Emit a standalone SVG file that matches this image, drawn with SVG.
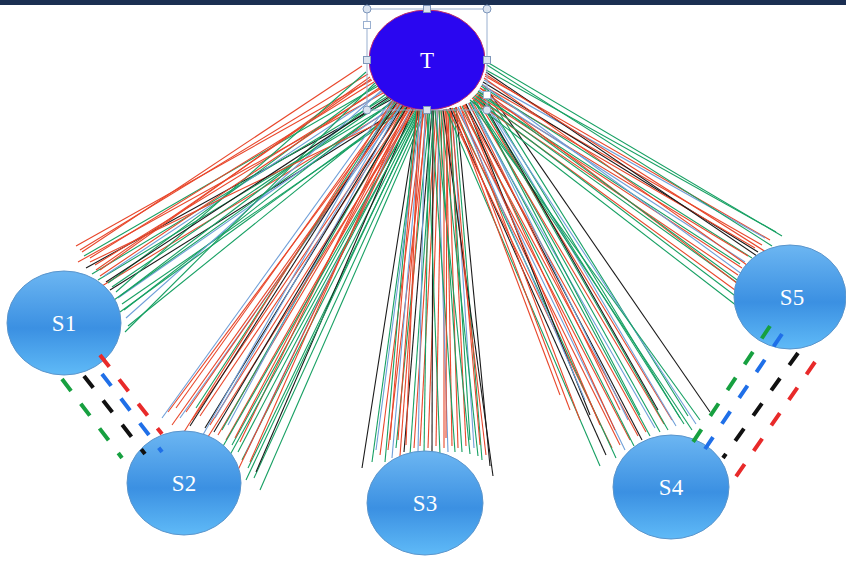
<svg xmlns="http://www.w3.org/2000/svg" width="846" height="561" viewBox="0 0 846 561">
<defs>
<linearGradient id="sg" x1="0" y1="0" x2="0" y2="1">
<stop offset="0" stop-color="#6cb6f2"/>
<stop offset="0.55" stop-color="#3b90e2"/>
<stop offset="1" stop-color="#5fbaf7"/>
</linearGradient>
<style>
.fan line{stroke-width:1.1;fill:none}
.r{stroke:#e8472b}.g{stroke:#17a063}.k{stroke:#1a1a1a}.b{stroke:#6f9fd8}
.s{fill:url(#sg);stroke:#5a95cc;stroke-width:1}
.lbl{font-family:"Liberation Serif","DejaVu Serif",serif;font-size:23px;fill:#fff;text-anchor:middle}
.dash line{stroke-width:4;stroke-dasharray:15 16;fill:none}
.sel{fill:none;stroke:#9ab0d0;stroke-width:1}
.hc{fill:#dbe4f0;stroke:#7f97bb;stroke-width:1}
.hs{fill:#dbe4f0;stroke:#7f97bb;stroke-width:1}
</style>
</defs>
<rect x="0" y="0" width="846" height="5" fill="#1b2f52"/>
<g id="connectors">
<g class="fan" id="fan-s1">
<line class="r" x1="372" y1="80" x2="76" y2="246"/>
<line class="r" x1="368" y1="74" x2="80" y2="250"/>
<line class="g" x1="378" y1="86" x2="84" y2="256"/>
<line class="r" x1="385" y1="92" x2="78" y2="262"/>
<line class="r" x1="374" y1="82" x2="90" y2="258"/>
<line class="k" x1="392" y1="99" x2="86" y2="268"/>
<line class="r" x1="380" y1="89" x2="95" y2="265"/>
<line class="g" x1="388" y1="96" x2="92" y2="274"/>
<line class="r" x1="370" y1="77" x2="100" y2="270"/>
<line class="g" x1="396" y1="101" x2="98" y2="280"/>
<line class="b" x1="383" y1="91" x2="104" y2="276"/>
<line class="r" x1="400" y1="104" x2="102" y2="286"/>
<line class="g" x1="376" y1="85" x2="108" y2="283"/>
<line class="k" x1="404" y1="106" x2="110" y2="290"/>
<line class="g" x1="390" y1="98" x2="112" y2="287"/>
<line class="g" x1="366" y1="72" x2="116" y2="292"/>
<line class="b" x1="398" y1="103" x2="118" y2="298"/>
<line class="g" x1="386" y1="94" x2="120" y2="296"/>
<line class="g" x1="408" y1="107" x2="122" y2="304"/>
<line class="g" x1="394" y1="100" x2="124" y2="310"/>
<line class="b" x1="382" y1="90" x2="126" y2="318"/>
<line class="g" x1="402" y1="105" x2="128" y2="326"/>
<line class="g" x1="375" y1="83" x2="125" y2="332"/>
<line class="r" x1="410" y1="108" x2="90" y2="262"/>
<line class="r" x1="362" y1="66" x2="82" y2="252"/>
<line class="k" x1="389" y1="97" x2="106" y2="282"/>
<line class="r" x1="371" y1="79" x2="96" y2="270"/>
<line class="g" x1="395" y1="101" x2="114" y2="300"/>
<line class="r" x1="379" y1="88" x2="100" y2="276"/>
<line class="g" x1="405" y1="106" x2="120" y2="312"/>
</g>
<g class="fan" id="fan-s2">
<line class="b" x1="392" y1="99" x2="162" y2="418"/>
<line class="r" x1="398" y1="103" x2="168" y2="412"/>
<line class="r" x1="395" y1="101" x2="176" y2="408"/>
<line class="b" x1="402" y1="105" x2="180" y2="418"/>
<line class="r" x1="400" y1="104" x2="186" y2="412"/>
<line class="r" x1="405" y1="106" x2="192" y2="420"/>
<line class="g" x1="396" y1="101" x2="196" y2="408"/>
<line class="r" x1="408" y1="107" x2="200" y2="416"/>
<line class="k" x1="403" y1="105" x2="205" y2="428"/>
<line class="r" x1="410" y1="108" x2="210" y2="425"/>
<line class="b" x1="399" y1="103" x2="215" y2="418"/>
<line class="r" x1="412" y1="108" x2="218" y2="435"/>
<line class="g" x1="406" y1="106" x2="222" y2="430"/>
<line class="r" x1="414" y1="109" x2="226" y2="440"/>
<line class="b" x1="401" y1="104" x2="228" y2="425"/>
<line class="g" x1="416" y1="109" x2="232" y2="445"/>
<line class="r" x1="409" y1="107" x2="235" y2="438"/>
<line class="g" x1="418" y1="110" x2="238" y2="452"/>
<line class="r" x1="404" y1="105" x2="240" y2="442"/>
<line class="g" x1="420" y1="110" x2="242" y2="460"/>
<line class="b" x1="411" y1="108" x2="245" y2="455"/>
<line class="g" x1="422" y1="110" x2="248" y2="468"/>
<line class="r" x1="407" y1="107" x2="250" y2="462"/>
<line class="g" x1="424" y1="110" x2="254" y2="478"/>
<line class="k" x1="413" y1="109" x2="256" y2="472"/>
<line class="g" x1="426" y1="110" x2="260" y2="490"/>
<line class="k" x1="397" y1="102" x2="190" y2="426"/>
<line class="r" x1="415" y1="109" x2="206" y2="440"/>
<line class="r" x1="400" y1="104" x2="172" y2="425"/>
<line class="g" x1="419" y1="110" x2="230" y2="455"/>
<line class="r" x1="393" y1="100" x2="184" y2="432"/>
<line class="g" x1="417" y1="110" x2="222" y2="448"/>
<line class="g" x1="421" y1="110" x2="246" y2="480"/>
<line class="k" x1="407" y1="107" x2="214" y2="432"/>
<line class="r" x1="412" y1="108" x2="238" y2="470"/>
<line class="b" x1="394" y1="100" x2="200" y2="440"/>
</g>
<g class="fan" id="fan-s3">
<line class="k" x1="418" y1="110" x2="362" y2="468"/>
<line class="g" x1="420" y1="110" x2="372" y2="462"/>
<line class="r" x1="424" y1="110" x2="380" y2="455"/>
<line class="g" x1="416" y1="110" x2="385" y2="462"/>
<line class="r" x1="428" y1="110" x2="388" y2="450"/>
<line class="b" x1="422" y1="110" x2="392" y2="458"/>
<line class="g" x1="430" y1="110" x2="396" y2="448"/>
<line class="r" x1="426" y1="110" x2="400" y2="456"/>
<line class="k" x1="432" y1="110" x2="404" y2="452"/>
<line class="r" x1="419" y1="110" x2="406" y2="445"/>
<line class="g" x1="434" y1="110" x2="410" y2="455"/>
<line class="r" x1="436" y1="110" x2="414" y2="448"/>
<line class="b" x1="425" y1="110" x2="418" y2="452"/>
<line class="r" x1="438" y1="110" x2="420" y2="446"/>
<line class="g" x1="429" y1="110" x2="424" y2="455"/>
<line class="r" x1="440" y1="110" x2="428" y2="448"/>
<line class="k" x1="433" y1="110" x2="432" y2="452"/>
<line class="r" x1="442" y1="110" x2="436" y2="446"/>
<line class="g" x1="427" y1="110" x2="440" y2="455"/>
<line class="r" x1="444" y1="109" x2="444" y2="448"/>
<line class="b" x1="437" y1="110" x2="448" y2="452"/>
<line class="r" x1="446" y1="109" x2="452" y2="446"/>
<line class="g" x1="431" y1="110" x2="455" y2="452"/>
<line class="r" x1="448" y1="109" x2="458" y2="448"/>
<line class="g" x1="439" y1="110" x2="462" y2="452"/>
<line class="r" x1="450" y1="108" x2="466" y2="446"/>
<line class="g" x1="435" y1="110" x2="470" y2="454"/>
<line class="b" x1="452" y1="108" x2="474" y2="448"/>
<line class="g" x1="441" y1="110" x2="478" y2="456"/>
<line class="g" x1="454" y1="108" x2="482" y2="460"/>
<line class="r" x1="445" y1="109" x2="486" y2="455"/>
<line class="k" x1="456" y1="107" x2="490" y2="466"/>
<line class="k" x1="443" y1="110" x2="493" y2="476"/>
<line class="r" x1="423" y1="110" x2="398" y2="440"/>
<line class="r" x1="447" y1="109" x2="446" y2="438"/>
<line class="b" x1="421" y1="110" x2="376" y2="450"/>
<line class="g" x1="449" y1="109" x2="470" y2="440"/>
<line class="r" x1="417" y1="110" x2="390" y2="440"/>
<line class="r" x1="451" y1="108" x2="480" y2="445"/>
</g>
<g class="fan" id="fan-s4">
<line class="g" x1="446" y1="109" x2="600" y2="466"/>
<line class="k" x1="450" y1="108" x2="606" y2="455"/>
<line class="r" x1="448" y1="109" x2="612" y2="448"/>
<line class="g" x1="454" y1="108" x2="616" y2="458"/>
<line class="r" x1="452" y1="108" x2="620" y2="445"/>
<line class="b" x1="458" y1="107" x2="625" y2="450"/>
<line class="r" x1="456" y1="107" x2="630" y2="440"/>
<line class="g" x1="462" y1="106" x2="634" y2="446"/>
<line class="r" x1="460" y1="106" x2="638" y2="436"/>
<line class="k" x1="466" y1="104" x2="642" y2="440"/>
<line class="r" x1="464" y1="105" x2="646" y2="432"/>
<line class="g" x1="470" y1="102" x2="650" y2="436"/>
<line class="b" x1="468" y1="103" x2="655" y2="428"/>
<line class="g" x1="474" y1="100" x2="660" y2="432"/>
<line class="r" x1="472" y1="101" x2="664" y2="424"/>
<line class="g" x1="478" y1="96" x2="668" y2="430"/>
<line class="r" x1="476" y1="98" x2="672" y2="420"/>
<line class="b" x1="480" y1="94" x2="676" y2="426"/>
<line class="g" x1="482" y1="92" x2="680" y2="418"/>
<line class="g" x1="477" y1="97" x2="684" y2="424"/>
<line class="g" x1="484" y1="88" x2="688" y2="416"/>
<line class="g" x1="473" y1="100" x2="692" y2="430"/>
<line class="b" x1="480" y1="94" x2="696" y2="424"/>
<line class="g" x1="470" y1="102" x2="700" y2="420"/>
<line class="k" x1="485" y1="86" x2="710" y2="412"/>
<line class="r" x1="460" y1="106" x2="580" y2="420"/>
<line class="r" x1="455" y1="108" x2="570" y2="410"/>
<line class="k" x1="466" y1="104" x2="590" y2="415"/>
<line class="r" x1="463" y1="105" x2="600" y2="425"/>
<line class="b" x1="458" y1="107" x2="585" y2="400"/>
<line class="r" x1="469" y1="103" x2="620" y2="410"/>
<line class="g" x1="475" y1="99" x2="640" y2="415"/>
<line class="r" x1="452" y1="108" x2="560" y2="395"/>
<line class="k" x1="479" y1="95" x2="658" y2="410"/>
<line class="r" x1="465" y1="104" x2="615" y2="430"/>
<line class="b" x1="471" y1="101" x2="628" y2="420"/>
</g>
<g class="fan" id="fan-s5">
<line class="g" x1="487" y1="62" x2="782" y2="236"/>
<line class="g" x1="486" y1="70" x2="776" y2="232"/>
<line class="r" x1="485" y1="76" x2="770" y2="240"/>
<line class="b" x1="484" y1="80" x2="765" y2="238"/>
<line class="r" x1="482" y1="85" x2="762" y2="245"/>
<line class="k" x1="483" y1="82" x2="758" y2="252"/>
<line class="r" x1="480" y1="88" x2="755" y2="248"/>
<line class="g" x1="481" y1="86" x2="752" y2="258"/>
<line class="r" x1="478" y1="92" x2="748" y2="256"/>
<line class="b" x1="479" y1="90" x2="745" y2="262"/>
<line class="r" x1="476" y1="94" x2="742" y2="268"/>
<line class="g" x1="477" y1="93" x2="740" y2="264"/>
<line class="r" x1="474" y1="96" x2="738" y2="275"/>
<line class="g" x1="475" y1="95" x2="736" y2="282"/>
<line class="r" x1="472" y1="98" x2="735" y2="290"/>
<line class="g" x1="473" y1="97" x2="738" y2="298"/>
<line class="g" x1="470" y1="100" x2="737" y2="306"/>
<line class="k" x1="486" y1="72" x2="760" y2="258"/>
<line class="r" x1="484" y1="78" x2="754" y2="270"/>
<line class="b" x1="482" y1="84" x2="750" y2="280"/>
<line class="r" x1="480" y1="88" x2="746" y2="290"/>
<line class="g" x1="478" y1="91" x2="744" y2="285"/>
<line class="g" x1="487" y1="65" x2="772" y2="246"/>
<line class="r" x1="485" y1="74" x2="766" y2="252"/>
</g>
</g>
<g id="S1"><ellipse class="s" cx="64" cy="323" rx="57" ry="52"/><text class="lbl" x="64" y="331">S1</text></g>
<g id="S2"><ellipse class="s" cx="184" cy="483" rx="57" ry="52"/><text class="lbl" x="184" y="491">S2</text></g>
<g id="S3"><ellipse class="s" cx="425" cy="503" rx="58" ry="52"/><text class="lbl" x="425" y="511">S3</text></g>
<g id="S4"><ellipse class="s" cx="671" cy="487" rx="58" ry="52"/><text class="lbl" x="671" y="495">S4</text></g>
<g id="S5"><ellipse class="s" cx="790" cy="297" rx="56" ry="52"/><text class="lbl" x="792" y="305">S5</text></g>
<g id="T">
<ellipse cx="427" cy="60" rx="58" ry="50" fill="#2a06f0" stroke="#c0306a" stroke-width="1"/>
<text class="lbl" x="427" y="68">T</text>
<rect class="sel" x="367" y="9" width="120" height="101"/>
<circle class="hc" cx="367" cy="9" r="4"/><circle class="hc" cx="487" cy="9" r="4"/>
<circle class="hc" cx="367" cy="110" r="4"/><circle class="hc" cx="487" cy="110" r="4"/>
<rect class="hs" x="423.5" y="5.5" width="7" height="7"/><rect class="hs" x="423.5" y="106.5" width="7" height="7"/>
<rect class="hs" x="363.5" y="56.5" width="7" height="7"/><rect class="hs" x="483.5" y="56.5" width="7" height="7"/>
<rect x="363.5" y="21.5" width="7" height="7" fill="#fff" stroke="#9ab0d0"/>
<rect x="483.5" y="91.5" width="7" height="7" fill="#fff" stroke="#9ab0d0"/>
</g>
<g class="dash" id="dashed">
<line x1="62" y1="379" x2="122" y2="458" stroke="#17a040"/>
<line x1="84" y1="376" x2="145" y2="454" stroke="#111"/>
<line x1="102" y1="374" x2="162" y2="452" stroke="#1f6fe8"/>
<line x1="100" y1="355" x2="162" y2="434" stroke="#e82a2a"/>
<line x1="770" y1="326" x2="693" y2="442" stroke="#17a040"/>
<line x1="782" y1="334" x2="705" y2="449" stroke="#1f6fe8"/>
<line x1="798" y1="353" x2="723" y2="458" stroke="#111"/>
<line x1="815" y1="362" x2="735" y2="478" stroke="#e82a2a"/>
</g>
</svg>
